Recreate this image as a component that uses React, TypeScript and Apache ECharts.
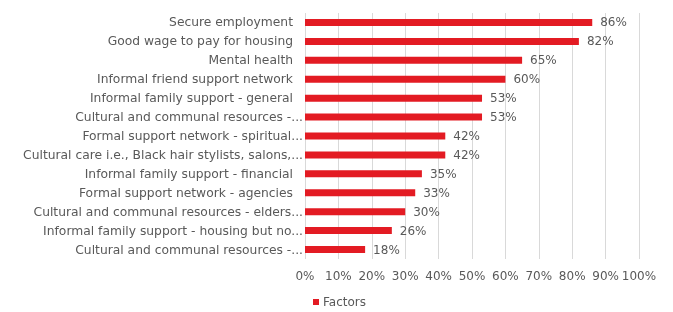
import React, { useEffect, useRef } from "react";
import * as echarts from "echarts";

const categories = [
  "Secure employment",
  "Good wage to pay for housing",
  "Mental health",
  "Informal friend support network",
  "Informal family support - general",
  "Cultural and communal resources -...",
  "Formal support network - spiritual...",
  "Cultural care i.e., Black hair stylists, salons,...",
  "Informal family support - financial",
  "Formal support network - agencies",
  "Cultural and communal resources - elders...",
  "Informal family support - housing but no...",
  "Cultural and communal resources -...",
];
const values = [0.86, 0.82, 0.65, 0.6, 0.53, 0.53, 0.42, 0.42, 0.35, 0.33, 0.3, 0.26, 0.18];
const seriesName = "Factors";

export default function App() {
  const ref = useRef<HTMLDivElement>(null);
  useEffect(() => {
    const chart = echarts.init(ref.current!, null, { renderer: "svg" });
    const font = "'DejaVu Sans', sans-serif";
    chart.setOption({
      animation: false,
      textStyle: { fontFamily: font },
      grid: { left: 305, top: 13, width: 334, height: 246, containLabel: false },
      legend: {
        data: [seriesName],
        left: 313,
        top: 296,
        padding: 0,
        itemWidth: 6,
        itemHeight: 6,
        itemGap: 4,
        icon: "rect",
        textStyle: { color: "#595959", fontSize: 12, fontFamily: font, padding: [0, 0, 0, -1] },
      },
      xAxis: {
        type: "value",
        min: 0,
        max: 1,
        interval: 0.1,
        axisLine: { show: false },
        axisTick: { show: false },
        splitLine: { show: true, lineStyle: { color: "#d9d9d9", width: 1 } },
        axisLabel: {
          color: "#595959",
          fontSize: 12,
          margin: 11,
          formatter: (v: number) => Math.round(v * 100) + "%",
        },
      },
      yAxis: {
        type: "category",
        data: categories,
        inverse: true,
        axisLine: { show: false },
        axisTick: { show: false },
        axisLabel: {
          color: "#595959",
          fontSize: 12.3,
          margin: 2,
          interval: 0,
          formatter: (v: string) => (v.endsWith("...") ? "{t|" + v + "}" : "{f|" + v + "}"),
          rich: {
            t: { color: "#595959", fontSize: 12.3, fontFamily: font },
            f: { color: "#595959", fontSize: 12.3, fontFamily: font, padding: [0, 10, 0, 0] },
          },
        },
      },
      series: [
        {
          name: seriesName,
          type: "bar",
          data: values,
          barWidth: 7,
          itemStyle: { color: "#E31B23" },
          label: {
            show: true,
            position: "right",
            distance: 8,
            color: "#595959",
            fontSize: 12,
            formatter: (p: any) => Math.round(p.value * 100) + "%",
          },
        },
      ],
    });
    return () => chart.dispose();
  }, []);
  return (
    <div
      ref={ref}
      style={{ position: "fixed", left: 0, top: 0, width: 673, height: 312 }}
    />
  );
}
